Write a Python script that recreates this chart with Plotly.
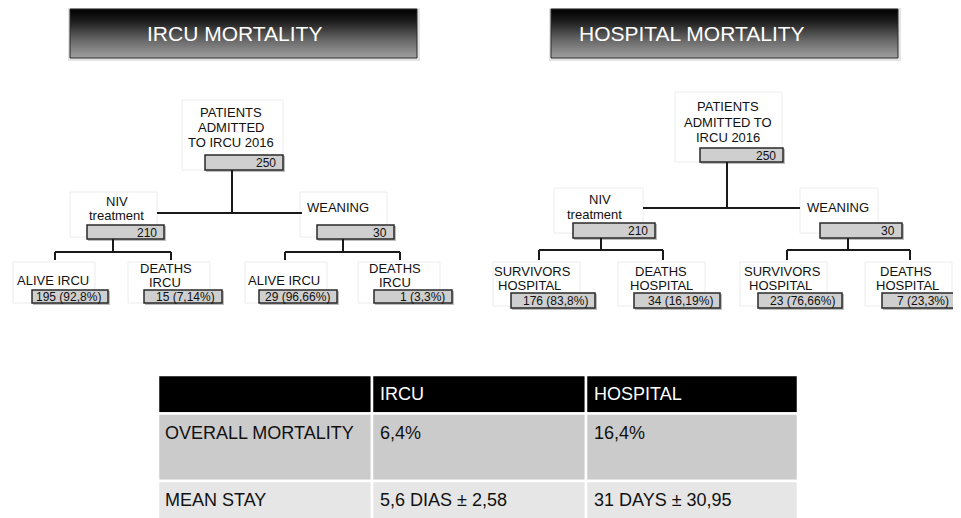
import plotly.graph_objects as go

# ---------------- data ----------------
titles = ["IRCU MORTALITY", "HOSPITAL MORTALITY"]
root_labels_ircu = ["PATIENTS", "ADMITTED", "TO IRCU 2016"]
root_labels_hosp = ["PATIENTS", "ADMITTED TO", "IRCU 2016"]
root_n = [250, 250]
branch_labels = [["NIV", "treatment"], ["WEANING"]]
branch_n = [210, 30]
ircu_leaf_labels = [["ALIVE IRCU"], ["DEATHS", "IRCU"], ["ALIVE IRCU"], ["DEATHS", "IRCU"]]
ircu_leaf_values = ["195 (92,8%)", "15 (7,14%)", "29 (96,66%)", "1 (3,3%)"]
hosp_leaf_labels = [["SURVIVORS", "HOSPITAL"], ["DEATHS", "HOSPITAL"],
                    ["SURVIVORS", "HOSPITAL"], ["DEATHS", "HOSPITAL"]]
hosp_leaf_values = ["176 (83,8%)", "34 (16,19%)", "23 (76,66%)", "7 (23,3%)"]

table_header = ["", "IRCU", "HOSPITAL"]
table_rows = ["OVERALL MORTALITY", "MEAN STAY"]
table_ircu = ["6,4%", "5,6 DIAS ± 2,58"]
table_hosp = ["16,4%", "31 DAYS ± 30,95"]

# ---------------- layout geometry (pixels) ----------------
FONT = "Liberation Sans, Arial, Helvetica, sans-serif"
W, H = 961, 518
OFF = 8  # page body margin offset

fig = go.Figure()
shapes = []
annots = []


def rect(x0, y0, x1, y1, fill, line=None, lw=0, layer="above"):
    shapes.append(dict(type="rect", xref="x", yref="y", x0=x0, y0=y0, x1=x1, y1=y1,
                       fillcolor=fill, line=dict(color=line or fill, width=lw),
                       layer=layer))


def seg(x0, y0, x1, y1, color="#1a1a1a", w=2):
    shapes.append(dict(type="line", xref="x", yref="y", x0=x0, y0=y0, x1=x1, y1=y1,
                       line=dict(color=color, width=w)))


def text(x, y, s, size=13, color="#111", anchor="center"):
    annots.append(dict(x=x, y=y, xref="x", yref="y", text=s, showarrow=False,
                       xanchor=anchor, yanchor="middle",
                       font=dict(family=FONT, size=size, color=color)))


# ---- title boxes ----
title_geom = [((70, 9, 417, 58), 234, "center"), ((551, 9, 898, 58), 577, "left")]
for (x0, y0, x1, y1), tx, anc in title_geom:
    rect(x0 - 2, y0 - 1, x1 + 3, y1 + 3, "#e4e4e4", lw=0, layer="below")
for i, ((x0, y0, x1, y1), tx, anc) in enumerate(title_geom):
    fig.add_trace(go.Scatter(
        x=[x0, x1, x1, x0, x0], y=[y0, y0, y1, y1, y0], mode="lines",
        fill="toself", line=dict(color="#2a2a2a", width=1),
        fillgradient=dict(type="vertical",
                          colorscale=[[0, "#a0a0a0"], [0.35, "#6a6a6a"], [0.75, "#1c1c1c"], [1, "#000000"]]),
        hoverinfo="skip", showlegend=False))
    text(tx, 33, titles[i], size=21, color="white", anchor=anc)


def node(white, gray, lines, line_pos, value, value_size=12, pad=5):
    wx0, wy0, wx1, wy1 = white
    rect(wx0, wy0, wx1, wy1, "white", "#ececec", 1, layer="below")
    gx0, gy0, gx1, gy1 = gray
    rect(gx0 + 1, gy0 + 1, gx1 + 2, gy1 + 2, "#bdbdbd", lw=0)
    rect(gx0, gy0, gx1, gy1, "#cfcfcf", "#2a2a2a", 1.5)
    for s, (x, y) in zip(lines, line_pos):
        text(x, y, s)
    text(gx1 - pad, (gy0 + gy1) / 2 + 0.5, str(value), size=value_size, anchor="right")


# ---- left tree (IRCU) ----
node((182, 100, 283, 170), (205, 155, 283, 170), root_labels_ircu,
     [(231, 112), (231, 127), (231, 142)], root_n[0])
seg(232, 170, 232, 213)
seg(157, 213, 302, 213)
node((70, 192, 157, 237), (87, 225, 164, 239), branch_labels[0], [(117, 201), (116, 215)], branch_n[0])
node((300, 192, 387, 237), (317, 225, 394, 239), branch_labels[1], [(338, 207)], branch_n[1])
seg(113, 239, 113, 252); seg(55, 252, 171, 252); seg(55, 252, 55, 260); seg(171, 252, 171, 260)
seg(343, 239, 343, 252); seg(285, 252, 400, 252); seg(285, 252, 285, 260); seg(400, 252, 400, 260)

ircu_leaf_geom = [
    ((13, 262, 95, 303), (32, 290, 108, 303), [(53, 280)]),
    ((128, 262, 210, 303), (144, 290, 222, 303), [(166, 268), (165, 282)]),
    ((245, 262, 327, 303), (259, 290, 337, 303), [(284, 280)]),
    ((358, 262, 440, 303), (374, 290, 452, 303), [(395, 268), (395, 282)]),
]
for (wb, gb, pos), lab, val in zip(ircu_leaf_geom, ircu_leaf_labels, ircu_leaf_values):
    node(wb, gb, lab, pos, val)

# ---- right tree (HOSPITAL) ----
node((675, 92, 782, 162), (700, 148, 783, 162), root_labels_hosp,
     [(728, 106), (728, 122), (728, 137)], root_n[1])
seg(727, 162, 727, 208)
seg(643, 208, 800, 208)
node((554, 188, 643, 233), (573, 223, 655, 238), branch_labels[0], [(600, 199), (594, 214)], branch_n[0])
node((800, 188, 878, 233), (820, 223, 902, 238), branch_labels[1], [(838, 207)], branch_n[1])
seg(601, 238, 601, 250); seg(539, 250, 663, 250); seg(539, 250, 539, 260); seg(663, 250, 663, 260)
seg(848, 238, 848, 250); seg(787, 250, 910, 250); seg(787, 250, 787, 260); seg(910, 250, 910, 260)

hosp_leaf_geom = [
    ((493, 262, 580, 306), (511, 293, 595, 308), [(532, 271), (529, 285)], 5),
    ((618, 262, 705, 306), (634, 293, 720, 308), [(661, 271), (661, 285)], 5),
    ((740, 262, 827, 306), (758, 293, 842, 308), [(782, 271), (780, 285)], 5),
    ((865, 262, 952, 306), (882, 293, 966, 308), [(906, 271), (907, 285)], 15),
]
for (wb, gb, pos, pad), lab, val in zip(hosp_leaf_geom, hosp_leaf_labels, hosp_leaf_values):
    node(wb, gb, lab, pos, val, pad=pad)

# ---- table ----
col_x = [158, 372, 586, 798]
row_y = [375, 413.5, 481, 530]
row_fill = ["#000000", "#cbcbcb", "#e6e6e6"]
for r in range(3):
    for c in range(3):
        rect(col_x[c], row_y[r], col_x[c + 1], row_y[r + 1], row_fill[r], "white", 2.5)
for c in range(1, 3):
    text(col_x[c] + 6, 394, table_header[c], size=18, color="white", anchor="left")
row_text_y = [433, 500]
for r in range(2):
    text(col_x[0] + 5, row_text_y[r], table_rows[r], size=18, anchor="left")
    text(col_x[1] + 6, row_text_y[r], table_ircu[r], size=18, anchor="left")
    text(col_x[2] + 6, row_text_y[r], table_hosp[r], size=18, anchor="left")

fig.update_layout(
    width=W - OFF, height=H - OFF, margin=dict(l=0, r=0, t=0, b=0),
    paper_bgcolor="white", plot_bgcolor="white",
    xaxis=dict(range=[OFF, W], visible=False, fixedrange=True),
    yaxis=dict(range=[H, OFF], visible=False, fixedrange=True),
    shapes=shapes, annotations=annots, showlegend=False,
)
fig.write_html("out.html")
